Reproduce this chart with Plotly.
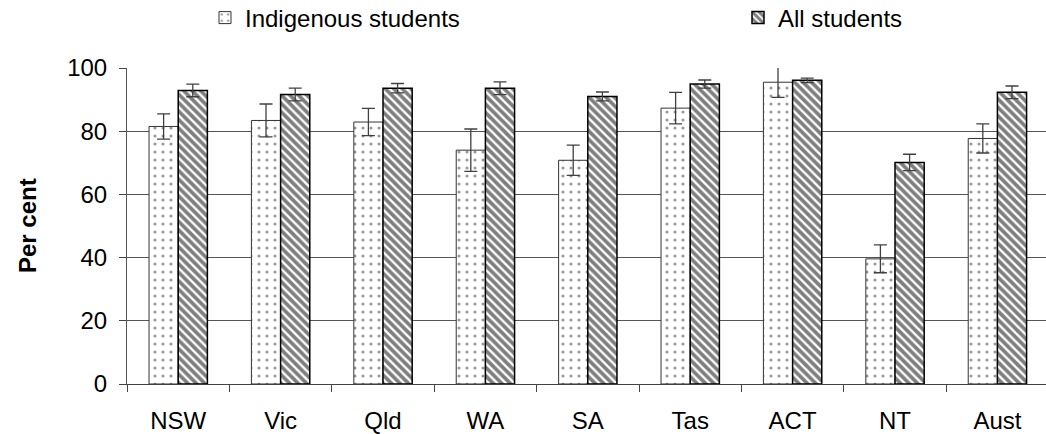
import plotly.graph_objects as go

categories = ["NSW", "Vic", "Qld", "WA", "SA", "Tas", "ACT", "NT", "Aust"]
indigenous = [81.5, 83.4, 82.9, 74.0, 70.8, 87.3, 95.5, 39.6, 77.7]
indigenous_err = [4.0, 5.2, 4.3, 6.7, 4.8, 5.0, 4.8, 4.4, 4.6]
all_students = [92.9, 91.6, 93.6, 93.6, 91.0, 94.9, 96.1, 70.1, 92.3]
all_err = [2.0, 2.0, 1.5, 2.0, 1.4, 1.3, 0.7, 2.6, 2.0]
yticks = [0, 20, 40, 60, 80, 100]

FONT = "Liberation Sans, Arial, sans-serif"
W, H = 1046, 434
ML, MR, MT, MB = 127, 0, 68, 50
PW = W - ML - MR
PH = H - MT - MB

fig = go.Figure()
fig.add_trace(go.Bar(
    x=categories, y=indigenous, name="Indigenous students",
    marker=dict(color="white", line=dict(color="#333333", width=1),
                pattern=dict(shape=".", fgcolor="#333333", bgcolor="white",
                             size=8, solidity=0.12)),
    error_y=dict(type="data", array=indigenous_err, visible=True,
                 color="#404040", thickness=1.3, width=6.5),
    legend="legend", showlegend=True,
))
fig.add_trace(go.Bar(
    x=categories, y=all_students, name="All students",
    marker=dict(color="white", line=dict(color="black", width=1.5),
                pattern=dict(shape="\\", fgcolor="black", bgcolor="white",
                             size=6, solidity=0.62)),
    error_y=dict(type="data", array=all_err, visible=True,
                 color="#404040", thickness=1.3, width=6.5),
    legend="legend2", showlegend=True,
))

leg_y = 1 + (MT - 18) / PH
fig.update_layout(
    width=W, height=H, showlegend=True,
    margin=dict(l=ML, r=MR, t=MT, b=MB, pad=0, autoexpand=False),
    paper_bgcolor="white", plot_bgcolor="white",
    barmode="group", bargap=0.43, bargroupgap=0,
    font=dict(family=FONT, size=24, color="black"),
    legend=dict(x=(205 - ML) / PW, y=leg_y, xanchor="left", yanchor="middle",
                orientation="h", font=dict(size=24), bgcolor="rgba(0,0,0,0)"),
    legend2=dict(x=(738 - ML) / PW, y=leg_y, xanchor="left", yanchor="middle",
                 orientation="h", font=dict(size=24), bgcolor="rgba(0,0,0,0)"),
    xaxis=dict(range=[-0.5, -0.5 + PW / 102.4], tickson="boundaries",
               ticks="outside", ticklen=7, tickcolor="#444444",
               showline=True, linecolor="#444444", linewidth=1,
               showgrid=False, tickfont=dict(size=24), ticklabelstandoff=15),
    yaxis=dict(range=[0, 100], tickvals=yticks, ticks="outside", ticklen=7,
               tickcolor="#444444", showline=True, linecolor="#555555",
               linewidth=1, showgrid=True, gridcolor="#555555", gridwidth=1,
               zeroline=False, tickfont=dict(size=24), ticklabelstandoff=7),
    annotations=[dict(text="<b>Per cent</b>", textangle=-90, xref="paper", yref="paper",
                      x=(27 - ML) / PW, y=0.5, xanchor="center", yanchor="middle",
                      showarrow=False, font=dict(size=24))],
)

fig.write_html("out.html", config={"displayModeBar": False},
               post_script="document.body.style.margin='0';document.body.style.overflow='hidden';")
